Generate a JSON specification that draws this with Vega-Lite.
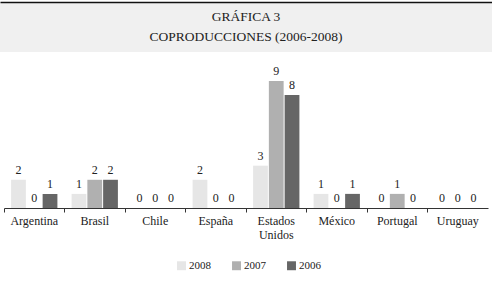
{
  "$schema": "https://vega.github.io/schema/vega-lite/v6.json",
  "background": "white",
  "padding": {"left": 0, "top": 2, "right": 0, "bottom": 0},
  "config": {"view": {"stroke": null}, "font": "Liberation Serif"},
  "vconcat": [
    {
      "width": 492,
      "height": 50,
      "view": {"fill": "#f0f0f0", "stroke": null},
      "data": {"values": [
        {"line": "1", "text": "GRÁFICA 3"},
        {"line": "2", "text": "COPRODUCCIONES (2006-2008)"}
      ]},
      "mark": {"type": "text", "font": "Liberation Serif", "fontSize": 13.5, "fill": "#222", "baseline": "middle", "align": "center"},
      "encoding": {
        "x": {"datum": 0.5, "type": "quantitative", "scale": {"domain": [0, 1]},
          "axis": {"orient": "top", "domain": true, "domainColor": "#111", "domainWidth": 1.5, "labels": false, "ticks": false, "grid": false, "title": null}},
        "y": {"field": "line", "type": "ordinal", "scale": {"padding": 0.75}, "axis": null},
        "text": {"field": "text"}
      }
    },
    {
      "width": 484,
      "height": 127,
      "data": {"values": [
        {"pais": "Argentina", "anio": "2008", "valor": 2},
        {"pais": "Argentina", "anio": "2007", "valor": 0},
        {"pais": "Argentina", "anio": "2006", "valor": 1},
        {"pais": "Brasil", "anio": "2008", "valor": 1},
        {"pais": "Brasil", "anio": "2007", "valor": 2},
        {"pais": "Brasil", "anio": "2006", "valor": 2},
        {"pais": "Chile", "anio": "2008", "valor": 0},
        {"pais": "Chile", "anio": "2007", "valor": 0},
        {"pais": "Chile", "anio": "2006", "valor": 0},
        {"pais": "España", "anio": "2008", "valor": 2},
        {"pais": "España", "anio": "2007", "valor": 0},
        {"pais": "España", "anio": "2006", "valor": 0},
        {"pais": "Estados Unidos", "anio": "2008", "valor": 3},
        {"pais": "Estados Unidos", "anio": "2007", "valor": 9},
        {"pais": "Estados Unidos", "anio": "2006", "valor": 8},
        {"pais": "México", "anio": "2008", "valor": 1},
        {"pais": "México", "anio": "2007", "valor": 0},
        {"pais": "México", "anio": "2006", "valor": 1},
        {"pais": "Portugal", "anio": "2008", "valor": 0},
        {"pais": "Portugal", "anio": "2007", "valor": 1},
        {"pais": "Portugal", "anio": "2006", "valor": 0},
        {"pais": "Uruguay", "anio": "2008", "valor": 0},
        {"pais": "Uruguay", "anio": "2007", "valor": 0},
        {"pais": "Uruguay", "anio": "2006", "valor": 0}
      ]},
      "encoding": {
        "x": {"field": "pais", "type": "nominal", "sort": null,
          "scale": {"paddingInner": 0, "paddingOuter": 0},
          "axis": {"title": null, "labelAngle": 0, "bandPosition": 0,
            "labelExpr": "split(datum.value, ' ')", "labelFont": "Liberation Serif", "labelFontSize": 12,
            "labelColor": "#222", "labelLineHeight": 14, "labelPadding": 3,
            "domainColor": "#333", "tickColor": "#333", "tickSize": 4, "grid": false}},
        "xOffset": {"field": "anio", "type": "nominal", "sort": ["2008", "2007", "2006"],
          "scale": {"paddingInner": 0.0625, "paddingOuter": 0.45}},
        "y": {"field": "valor", "type": "quantitative", "scale": {"domain": [0, 9], "nice": false}, "axis": null}
      },
      "layer": [
        {
          "mark": {"type": "bar"},
          "encoding": {
            "color": {"field": "anio", "type": "nominal",
              "scale": {"domain": ["2008", "2007", "2006"], "range": ["#e6e6e6", "#b0b0b0", "#666666"]},
              "legend": {"title": null, "orient": "none", "legendX": 176, "legendY": 258, "direction": "horizontal",
                "symbolType": "square", "symbolSize": 80, "symbolStrokeWidth": 0, "labelFont": "Liberation Serif",
                "labelFontSize": 11, "labelColor": "#222", "labelOffset": 2, "columnPadding": 20}}
          }
        },
        {
          "mark": {"type": "text", "baseline": "bottom", "dy": -3, "font": "Liberation Serif", "fontSize": 12, "fill": "#222"},
          "encoding": {"text": {"field": "valor", "type": "quantitative"}}
        }
      ]
    }
  ],
  "spacing": 29,
  "bounds": "flush",
  "center": true
}
